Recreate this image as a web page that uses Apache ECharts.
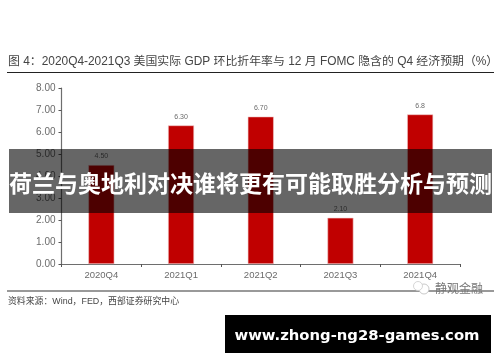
<!DOCTYPE html>
<html>
<head>
<meta charset="utf-8">
<script src="https://cdn.jsdelivr.net/npm/echarts@6/dist/echarts.min.js"></script>
<style>
  html, body { margin: 0; padding: 0; background: #fff; }
  #chart { width: 500px; height: 362px; }
</style>
</head>
<body>
<div id="chart"></div>
<script>
const categories = ["2020Q4", "2021Q1", "2021Q2", "2021Q3", "2021Q4"];
const gdpValues = [4.5, 6.3, 6.7, 2.1, 6.8];
const valueLabels = ["4.50", "6.30", "6.70", "2.10", "6.8"];
const yTicks = ["0.00", "1.00", "2.00", "3.00", "4.00", "5.00", "6.00", "7.00", "8.00"];

const chartTitle = "图 4：2020Q4-2021Q3 美国实际 GDP 环比折年率与 12 月 FOMC 隐含的 Q4 经济预期（%）";
const sourceText = "资料来源：Wind，FED，西部证券研究中心";
const bannerText = "荷兰与奥地利对决谁将更有可能取胜分析与预测";
const siteText = "www.zhong-ng28-games.com";
const markText = "静观金融";

const latin = '"Liberation Sans", "Noto Sans CJK SC", sans-serif';

const chart = echarts.init(document.getElementById("chart"), null, { renderer: "canvas" });
chart.setOption({
  animation: false,
  backgroundColor: "#fff",
  grid: { left: 61.5, right: 40, top: 88, bottom: 98, containLabel: false },
  xAxis: {
    type: "category",
    data: categories,
    axisLine: { lineStyle: { color: "#6e6e6e", width: 1.2 } },
    axisTick: { show: true, length: 3, lineStyle: { color: "#555" } },
    axisLabel: { color: "#6b6b6b", fontSize: 9.5, fontFamily: latin, margin: 7 },
  },
  yAxis: {
    type: "value",
    min: 0,
    max: 8,
    interval: 1,
    axisLine: { show: true, lineStyle: { color: "#6e6e6e", width: 1.2 } },
    axisTick: { show: true, length: 3, lineStyle: { color: "#555" } },
    splitLine: { show: false },
    axisLabel: {
      color: "#6b6b6b",
      fontSize: 10,
      fontFamily: latin,
      margin: 6,
      formatter: (v) => yTicks[v],
    },
  },
  series: [
    {
      type: "bar",
      data: gdpValues,
      barWidth: 26,
      itemStyle: { color: "#c00000", borderColor: "#f0c8c8", borderWidth: 0.6 },
      label: {
        show: true,
        position: "top",
        distance: 5,
        color: "#6b6b6b",
        fontSize: 7,
        fontFamily: latin,
        formatter: (p) => valueLabels[p.dataIndex],
      },
    },
  ],
  graphic: [
    { type: "text", z: 10, style: { x: 8, y: 61.5, text: chartTitle, fill: "#444", font: "11.9px " + latin, textVerticalAlign: "middle" } },
    { type: "line", z: 10, shape: { x1: 7, y1: 72.5, x2: 494, y2: 72.5 }, style: { stroke: "#222", lineWidth: 1 } },
    { type: "line", z: 10, shape: { x1: 7, y1: 291, x2: 494, y2: 291 }, style: { stroke: "#777", lineWidth: 1.6 } },
    { type: "text", z: 10, style: { x: 8, y: 301.5, text: sourceText, fill: "#444", font: "8.9px " + latin, textVerticalAlign: "middle" } },
    { type: "circle", z: 11, shape: { cx: 424, cy: 289, r: 5 }, style: { fill: "#fff", stroke: "#bbb", lineWidth: 0.8 } },
    { type: "circle", z: 11, shape: { cx: 418, cy: 286, r: 4.5 }, style: { fill: "#fff", stroke: "#ccc", lineWidth: 0.8 } },
    { type: "text", z: 11, style: { x: 435, y: 288, text: markText, fill: "#777", font: '12px "Noto Sans CJK SC"', textVerticalAlign: "middle" } },
    { type: "rect", z: 20, shape: { x: 9, y: 149, width: 483, height: 64 }, style: { fill: "rgba(0,0,0,0.6)" } },
    { type: "text", z: 21, style: { x: 250.5, y: 183, text: bannerText, fill: "#fff", font: 'bold 23px "Noto Sans CJK SC"', textAlign: "center", textVerticalAlign: "middle" } },
    { type: "rect", z: 20, shape: { x: 225, y: 315, width: 266, height: 38 }, style: { fill: "#000" } },
    { type: "text", z: 21, style: { x: 357, y: 336, text: siteText, fill: "#fff", font: 'bold 14.8px "DejaVu Sans"', textAlign: "center", textVerticalAlign: "middle" } },
  ],
});
</script>
</body>
</html>
